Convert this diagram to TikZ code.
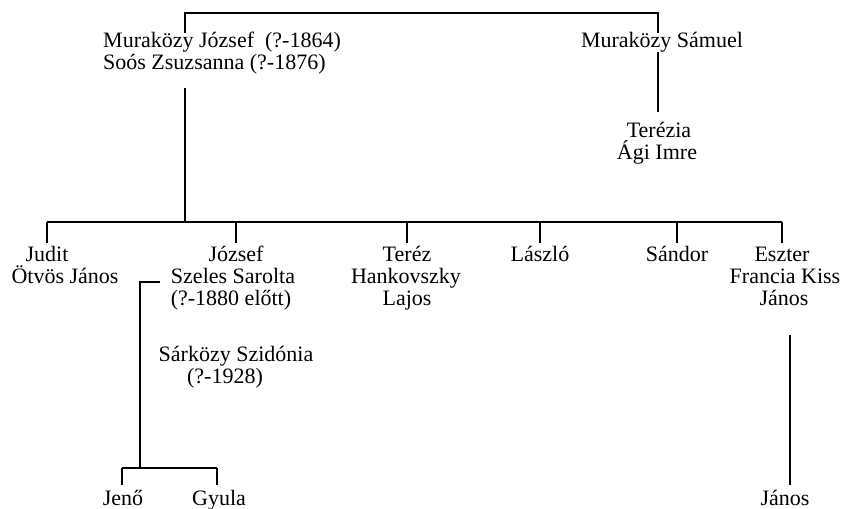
\documentclass[tikz,border=0pt]{standalone}
\usepackage{fontspec}
\setmainfont{Liberation Serif}
\begin{document}
\begin{tikzpicture}[x=1pt,y=-1pt,
  txt/.style={anchor=base,inner sep=0pt,font=\fontsize{22}{24}\selectfont},
  txtw/.style={anchor=base west,inner sep=0pt,font=\fontsize{22}{24}\selectfont},
  ln/.style={line width=1.1pt},
  thk/.style={line width=2pt}]
\useasboundingbox[fill=white] (0,0) rectangle (847,509);
% texts
\node[txtw] (mj) at (103,47) {Muraközy József\ \ (?-1864)};
\node[txtw] (sz) at (103,69) {Soós Zsuzsanna (?-1876)};
\node[txt] (ms) at (662,47) {Muraközy Sámuel};
\node[txt] (te) at (659,137) {Terézia};
\node[txt] (ai) at (657,159) {Ági Imre};
\node[txt] (ju) at (47,261) {Judit};
\node[txt] (oj) at (65,283) {Ötvös János};
\node[txt] (jo) at (236,261) {József};
\node[txt] (ss) at (233,283) {Szeles Sarolta};
\node[txt] (se) at (231,305) {(?-1880 előtt)};
\node[txt] (sa) at (236,361) {Sárközy Szidónia};
\node[txt] (sd) at (225,383) {(?-1928)};
\node[txt] (tr) at (407,261) {Teréz};
\node[txt] (hk) at (406,283) {Hankovszky};
\node[txt] (lj) at (407,305) {Lajos};
\node[txt] (la) at (540,261) {László};
\node[txt] (sn) at (677,261) {Sándor};
\node[txt] (es) at (782,261) {Eszter};
\node[txt] (fk) at (785,283) {Francia Kiss};
\node[txt] (ja) at (784,305) {János};
\node[txt] (je) at (123,505) {Jenő};
\node[txt] (gy) at (219,505) {Gyula};
\node[txt] (jb) at (785,505) {János};
% coordinates
\coordinate (tl) at (185,13);
\coordinate (tr1) at (658,13);
\coordinate (tlb) at (185,33);
\coordinate (trb) at (658,33);
\coordinate (sb1) at (658,52);
\coordinate (sb2) at (658,112);
\coordinate (m1) at (185,88);
\coordinate (m2) at (185,222);
\coordinate (hl) at (47,222);
\coordinate (hr) at (782,222);
\coordinate (jz1) at (160,282);
\coordinate (jz2) at (140,282);
\coordinate (jz3) at (140,468);
\coordinate (kl) at (122,468);
\coordinate (kr) at (217,468);
\coordinate (e1) at (790,335);
\coordinate (e2) at (790,485);
% lines
\draw[ln] (tlb) -- (tl) -- (tr1) -- (trb);
\draw[ln] (sb1) -- (sb2);
\draw[thk] (m1) -- (m2);
\draw[ln] (hl) -- (hr);
\foreach \x in {47,236,407,540,677,782} \draw[ln] (\x,222) -- (\x,243);
\draw[thk] (jz1) -- (jz2) -- (jz3);
\draw[ln] (kl) -- (kr);
\draw[thk] (kl) -- (122,485);
\draw[thk] (kr) -- (217,485);
\draw[thk] (e1) -- (e2);
\end{tikzpicture}
\end{document}
